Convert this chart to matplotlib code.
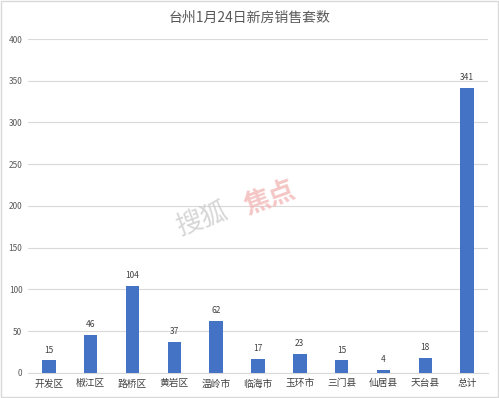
import matplotlib.pyplot as plt
from matplotlib.patches import Rectangle

plt.rcParams['font.family'] = ['Noto Sans CJK SC', 'DejaVu Sans']

# 数据
districts = ['开发区', '椒江区', '路桥区', '黄岩区', '温岭市', '临海市',
             '玉环市', '三门县', '仙居县', '天台县', '总计']
sales = [15, 46, 104, 37, 62, 17, 23, 15, 4, 18, 341]
y_ticks = [0, 50, 100, 150, 200, 250, 300, 350, 400]

fig = plt.figure(figsize=(4.99, 3.98), dpi=100)
ax = fig.add_axes([0.056, 0.063, 0.922, 0.839])

x = range(len(districts))
bars = ax.bar(x, sales, width=0.32, color='#4472C4', zorder=3)
for b, v in zip(bars, sales):
    ax.text(b.get_x() + b.get_width() / 2, v + 7, str(v), ha='center', va='bottom',
            fontsize=6, color='#404040')

ax.set_ylim(0, 400)
ax.set_xlim(-0.5, len(districts) - 0.5)
ax.set_yticks(y_ticks)
ax.set_yticklabels([str(t) for t in y_ticks], fontsize=6, color='#595959')
ax.set_xticks(list(x))
ax.set_xticklabels(districts, fontsize=7, color='#404040')
ax.tick_params(length=0, pad=4)
ax.yaxis.grid(True, color='#d9d9d9', linewidth=0.8, zorder=0)
for s in ['top', 'right', 'left']:
    ax.spines[s].set_visible(False)
ax.spines['bottom'].set_color('#d9d9d9')

fig.text(0.5, 0.955, '台州1月24日新房销售套数', ha='center', va='center',
         fontsize=10, color='#595959')

# 水印
fig.text(0.405, 0.45, '搜狐', fontsize=19, color='#cccccc', rotation=20,
         ha='center', va='center', alpha=0.8)
fig.text(0.54, 0.5, '焦点', fontsize=19, color='#f2b8b8', rotation=20,
         ha='center', va='center', weight='bold', alpha=0.8)

# 外框
fig.patches.append(Rectangle((0.002, 0.002), 0.996, 0.996, transform=fig.transFigure,
                             fill=False, edgecolor='#d9d9d9', linewidth=1))

fig.savefig('out.png', dpi=100)
